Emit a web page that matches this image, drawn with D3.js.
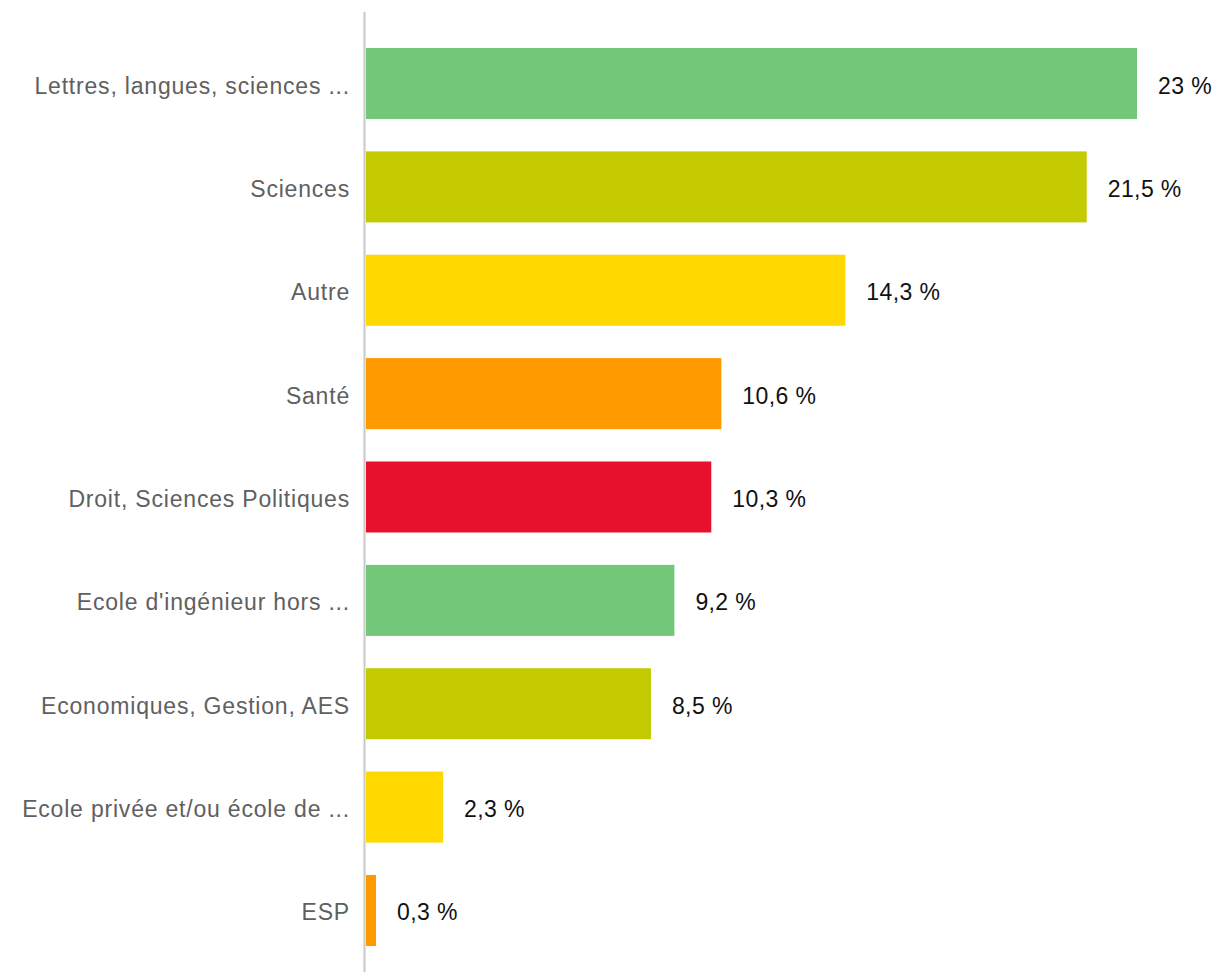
<!DOCTYPE html>
<html>
<head>
<meta charset="utf-8">
<script src="https://cdn.jsdelivr.net/npm/d3@7"></script>
<style>
  html, body { margin: 0; padding: 0; background: #fff; }
  svg { display: block; }
</style>
</head>
<body>
<svg id="chart" width="1219" height="972"></svg>
<script>
// Répartition par filière (%)
const categories = [
  "Lettres, langues, sciences ...",
  "Sciences",
  "Autre",
  "Santé",
  "Droit, Sciences Politiques",
  "Ecole d'ingénieur hors ...",
  "Economiques, Gestion, AES",
  "Ecole privée et/ou école de ...",
  "ESP"
];
const values = [23, 21.5, 14.3, 10.6, 10.3, 9.2, 8.5, 2.3, 0.3];
const valueLabels = ["23 %", "21,5 %", "14,3 %", "10,6 %", "10,3 %", "9,2 %", "8,5 %", "2,3 %", "0,3 %"];
const palette = ["#73c779", "#c3cb00", "#ffd800", "#ff9900", "#e8112d"];

const svg = d3.select("#chart");
const axisX = 365;

const x = d3.scaleLinear().domain([0, 23]).range([axisX + 1, 1137]);
const y = d3.scaleBand()
  .domain(categories)
  .range([17, 977])
  .paddingInner(0.313)
  .paddingOuter(0.3);

// bars
svg.append("g").selectAll("rect")
  .data(categories)
  .join("rect")
  .attr("x", x(0))
  .attr("y", d => y(d))
  .attr("width", (d, i) => x(values[i]) - x(0))
  .attr("height", y.bandwidth())
  .attr("fill", (d, i) => palette[i % palette.length]);

// vertical axis line
svg.append("line")
  .attr("x1", axisX - 0.5).attr("x2", axisX - 0.5)
  .attr("y1", 12).attr("y2", 972)
  .attr("stroke", "#c8c8c8")
  .attr("stroke-width", 2);

// category labels
svg.append("g").selectAll("text")
  .data(categories)
  .join("text")
  .attr("x", 350)
  .attr("y", d => y(d) + y.bandwidth() / 2 + 2)
  .attr("text-anchor", "end")
  .attr("dominant-baseline", "central")
  .attr("font-family", "'Liberation Sans', Arial, sans-serif")
  .attr("font-size", 23)
  .attr("letter-spacing", 0.8)
  .attr("fill", "#606060")
  .text(d => d);

// value labels
svg.append("g").selectAll("text")
  .data(categories)
  .join("text")
  .attr("x", (d, i) => x(values[i]) + 21)
  .attr("y", d => y(d) + y.bandwidth() / 2 + 2)
  .attr("dominant-baseline", "central")
  .attr("font-family", "'Liberation Sans', Arial, sans-serif")
  .attr("font-size", 23)
  .attr("letter-spacing", 0.4)
  .attr("fill", "#111")
  .text((d, i) => valueLabels[i]);
</script>
</body>
</html>
